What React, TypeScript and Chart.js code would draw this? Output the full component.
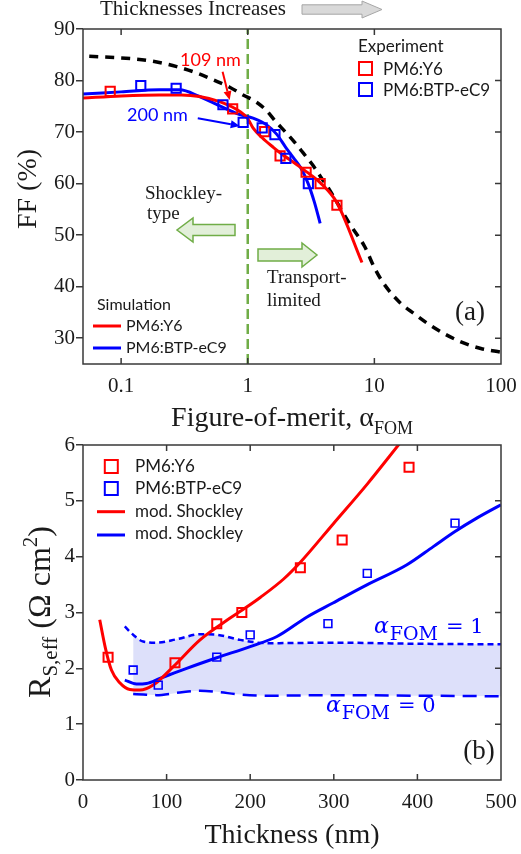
import React, { useEffect, useRef } from "react";
import { Chart, registerables } from "chart.js";

Chart.register(...registerables);

const SERIF = '"Liberation Serif", "Times New Roman", serif';
const SANS = 'Lato, "Noto Sans", sans-serif';
const MATH = '"DejaVu Serif", serif';
const INK = "#1a1a1a";
const FRAME = "#383838";
const RED = "#ff0000";
const BLUE = "#0000ff";
const GREEN = "#70ad47";

// ---------- Panel (a): fill factor versus figure-of-merit ----------
const fomTicks = [0.1, 1, 10, 100];
const ffTicks = [30, 40, 50, 60, 70, 80, 90];
const fomThreshold = 1;

const modelFom = [0.056, 0.127, 0.183, 0.275, 0.392, 0.537, 0.72, 0.918, 1.157, 1.39, 1.67, 1.97, 2.33, 2.75, 3.26, 3.77, 4.34, 6.45, 8.38, 10, 11.7, 16.1, 20.5, 26.2, 35.5, 48.2, 69.3, 100];
const modelFF = [84.7, 84.2, 83.7, 82.7, 81.5, 80.1, 78.7, 77.2, 75.9, 74.3, 72.0, 70.1, 68.1, 65.9, 63.6, 61.3, 59.1, 52.0, 47.8, 43.7, 40.8, 36.8, 34.8, 32.9, 30.9, 29.3, 28.0, 27.3];

const simY6Fom = [0.05, 0.1, 0.2, 0.3, 0.416, 0.6, 0.865, 1.0, 1.1, 1.3, 1.6, 1.8, 2.43, 3.1, 3.73, 5.06, 7.98];
const simY6FF = [76.6, 77.0, 77.2, 77.2, 76.9, 75.9, 74.0, 72.6, 70.8, 68.9, 67.0, 66.0, 63.7, 61.8, 60.2, 56.3, 44.7];

const simEC9Fom = [0.05, 0.1, 0.2, 0.29, 0.416, 0.6, 0.865, 1.1, 1.41, 1.69, 2.0, 2.3, 2.6, 3.0, 3.35, 3.73];
const simEC9FF = [77.4, 77.8, 78.2, 78.2, 76.9, 75.1, 73.4, 72.7, 71.4, 69.6, 67.0, 65.0, 63.2, 60.0, 56.5, 52.3];

const expY6Fom = [0.082, 0.76, 1.36, 1.8, 2.89, 3.73, 5.06];
const expY6FF = [77.9, 74.5, 70.1, 65.4, 62.2, 60.0, 55.8];

const expEC9Fom = [0.143, 0.272, 0.637, 0.92, 1.3, 1.64, 2.0, 3.01];
const expEC9FF = [79.0, 78.5, 75.3, 71.9, 70.8, 69.5, 64.9, 60.0];

// ---------- Panel (b): effective series resistance versus thickness ----------
const thicknessTicks = [0, 100, 200, 300, 400, 500];
const rsTicks = [0, 1, 2, 3, 4, 5, 6];

const expY6Thick = [30, 110, 160, 190, 260, 310, 390];
const expY6Rs = [2.2, 2.1, 2.8, 3.0, 3.8, 4.3, 5.6];

const expEC9Thick = [60, 90, 160, 200, 293, 340, 445];
const expEC9Rs = [1.97, 1.7, 2.2, 2.6, 2.8, 3.7, 4.6];

const shockleyY6Thick = [20, 27, 34, 44, 56, 68, 84, 108, 140, 176, 191, 212, 240, 260, 300, 340, 380];
const shockleyY6Rs = [2.87, 2.35, 1.97, 1.74, 1.62, 1.61, 1.7, 2.03, 2.51, 2.9, 3.05, 3.27, 3.6, 3.9, 4.6, 5.3, 6.05];

const shockleyEC9Thick = [50, 64, 76, 92, 124, 160, 200, 232, 268, 299, 339, 387, 419, 445, 471, 500];
const shockleyEC9Rs = [1.79, 1.72, 1.73, 1.82, 2.0, 2.19, 2.39, 2.57, 2.92, 3.17, 3.49, 3.85, 4.18, 4.45, 4.69, 4.93];

const fomOneThick = [50, 60, 72, 88, 112, 140, 160, 188, 220, 300, 400, 500];
const fomOneRs = [2.75, 2.6, 2.48, 2.46, 2.52, 2.61, 2.6, 2.51, 2.45, 2.46, 2.44, 2.43];

const fomZeroThick = [60, 72, 88, 112, 140, 160, 188, 220, 300, 400, 500];
const fomZeroRs = [1.54, 1.53, 1.52, 1.56, 1.6, 1.58, 1.53, 1.51, 1.52, 1.51, 1.5];

// ---------- helpers ----------
const pts = (xs: number[], ys: number[]) => xs.map((x, i) => ({ x, y: ys[i] }));

function curve(label: string, data: any[], color: string, width: number, dash: number[], order: number, extra: any = {}) {
  return {
    type: "line",
    label,
    data,
    borderColor: color,
    backgroundColor: color,
    borderWidth: width,
    borderDash: dash,
    borderCapStyle: "butt",
    pointRadius: 0,
    pointHoverRadius: 0,
    fill: false,
    cubicInterpolationMode: "monotone",
    order,
    ...extra,
  };
}

function squares(label: string, data: any[], color: string, radius: number, width: number, order: number) {
  return {
    type: "line",
    label,
    data,
    showLine: false,
    pointStyle: "rect",
    pointRadius: radius,
    pointHoverRadius: radius,
    pointBorderColor: color,
    pointBackgroundColor: "rgba(0,0,0,0)",
    pointBorderWidth: width,
    borderColor: color,
    backgroundColor: "rgba(0,0,0,0)",
    order,
  };
}

function yAxis(min: number, max: number, ticks: number[], width: number) {
  return {
    type: "linear",
    min,
    max,
    afterBuildTicks: (s: any) => {
      s.ticks = ticks.map((v) => ({ value: v }));
    },
    afterFit: (s: any) => {
      s.width = width;
    },
    grid: { drawOnChartArea: false, drawTicks: true, tickLength: 7, color: FRAME, lineWidth: 1.5 },
    border: { display: false },
    ticks: { padding: 1, color: INK, font: { family: SERIF, size: 21 }, callback: (v: any) => String(v) },
  };
}

function xAxis(type: string, min: number, max: number, ticks: number[], height: number) {
  return {
    type,
    min,
    max,
    afterBuildTicks: (s: any) => {
      s.ticks = ticks.map((v) => ({ value: v }));
    },
    afterFit: (s: any) => {
      s.height = height;
    },
    grid: { display: false },
    border: { display: false },
    ticks: {
      padding: 2,
      autoSkip: false,
      maxRotation: 0,
      color: INK,
      font: { family: SERIF, size: 21 },
      callback: (v: any) => String(v),
    },
  };
}

function drawFrame(chart: any) {
  const { ctx, chartArea: a, scales } = chart;
  const xs = scales.x;
  const ys = scales.y;
  ctx.save();
  ctx.strokeStyle = FRAME;
  ctx.lineWidth = 1.5;
  ctx.beginPath();
  for (const t of xs.ticks) {
    const p = xs.getPixelForValue(t.value);
    if (p <= a.left + 1 || p >= a.right - 1) continue;
    ctx.moveTo(p, a.bottom);
    ctx.lineTo(p, a.bottom - 6);
    ctx.moveTo(p, a.top);
    ctx.lineTo(p, a.top + 6);
  }
  for (const t of ys.ticks) {
    const p = ys.getPixelForValue(t.value);
    if (p <= a.top + 1 || p >= a.bottom - 1) continue;
    ctx.moveTo(a.right, p);
    ctx.lineTo(a.right - 6, p);
  }
  ctx.stroke();
  ctx.strokeRect(a.left, a.top, a.right - a.left, a.bottom - a.top);
  ctx.restore();
}

function text(ctx: any, s: string, x: number, y: number, font: string, color: string, align = "left", baseline = "alphabetic") {
  ctx.font = font;
  ctx.fillStyle = color;
  ctx.textAlign = align;
  ctx.textBaseline = baseline;
  ctx.fillText(s, x, y);
}

function blockArrow(ctx: any, tailX: number, tipX: number, cy: number, bodyHalf: number, headHalf: number, headLen: number, fill: string, stroke: string, lw: number) {
  const d = Math.sign(tipX - tailX);
  const neck = tipX - d * headLen;
  ctx.beginPath();
  ctx.moveTo(tailX, cy - bodyHalf);
  ctx.lineTo(neck, cy - bodyHalf);
  ctx.lineTo(neck, cy - headHalf);
  ctx.lineTo(tipX, cy);
  ctx.lineTo(neck, cy + headHalf);
  ctx.lineTo(neck, cy + bodyHalf);
  ctx.lineTo(tailX, cy + bodyHalf);
  ctx.closePath();
  ctx.fillStyle = fill;
  ctx.fill();
  ctx.strokeStyle = stroke;
  ctx.lineWidth = lw;
  ctx.stroke();
}

function pointer(ctx: any, x0: number, y0: number, x1: number, y1: number, color: string) {
  const ang = Math.atan2(y1 - y0, x1 - x0);
  const head = 9;
  const half = 4;
  const bx = x1 - head * Math.cos(ang);
  const by = y1 - head * Math.sin(ang);
  ctx.strokeStyle = color;
  ctx.lineWidth = 2;
  ctx.beginPath();
  ctx.moveTo(x0, y0);
  ctx.lineTo(bx, by);
  ctx.stroke();
  ctx.fillStyle = color;
  ctx.beginPath();
  ctx.moveTo(x1, y1);
  ctx.lineTo(bx + half * Math.sin(ang), by - half * Math.cos(ang));
  ctx.lineTo(bx - half * Math.sin(ang), by + half * Math.cos(ang));
  ctx.closePath();
  ctx.fill();
}

function legendSquare(ctx: any, cx: number, cy: number, side: number, color: string) {
  ctx.strokeStyle = color;
  ctx.lineWidth = 2;
  ctx.strokeRect(cx - side / 2, cy - side / 2, side, side);
}

function legendLine(ctx: any, x0: number, x1: number, y: number, color: string) {
  ctx.strokeStyle = color;
  ctx.lineWidth = 3;
  ctx.beginPath();
  ctx.moveTo(x0, y);
  ctx.lineTo(x1, y);
  ctx.stroke();
}

// Text runs with sub/superscripts: [text, size, baseline shift]
function runs(ctx: any, parts: [string, number, number][], family: string, color: string) {
  let w = 0;
  for (const [s, size] of parts) {
    ctx.font = `${size}px ${family}`;
    w += ctx.measureText(s).width;
  }
  return {
    width: w,
    draw: (x: number, y: number) => {
      ctx.fillStyle = color;
      ctx.textAlign = "left";
      ctx.textBaseline = "alphabetic";
      let cx = x;
      for (const [s, size, dy] of parts) {
        ctx.font = `${size}px ${family}`;
        ctx.fillText(s, cx, y + dy);
        cx += ctx.measureText(s).width;
      }
    },
  };
}

// ---------- panel (a) decorations ----------
const panelADecor = {
  id: "panelADecor",
  afterDraw(chart: any) {
    const { ctx, scales } = chart;
    const X = (v: number) => scales.x.getPixelForValue(v);
    const Y = (v: number) => scales.y.getPixelForValue(v);
    drawFrame(chart);
    ctx.save();

    text(ctx, "Thicknesses Increases", 100, 15, `21px ${SERIF}`, INK);
    blockArrow(ctx, 302, 382, 9.5, 4.7, 8.5, 20, "#d9d9d9", "#a6a6a6", 1);

    text(ctx, "109 nm", 180, 66, `18px ${SANS}`, RED);
    pointer(ctx, X(0.633), Y(81.7), X(0.72), Y(76.2), RED);
    text(ctx, "200 nm", 127, 120.5, `18px ${SANS}`, BLUE);
    pointer(ctx, X(0.403), Y(72.7), X(0.864), Y(71.2), BLUE);

    text(ctx, "Experiment", 358, 52, `17px ${SANS}`, INK);
    legendSquare(ctx, 365.5, 68.5, 13, RED);
    text(ctx, "PM6:Y6", 383, 75, `17px ${SANS}`, INK);
    legendSquare(ctx, 365.5, 89.5, 13, BLUE);
    text(ctx, "PM6:BTP-eC9", 383, 96, `17px ${SANS}`, INK);

    text(ctx, "Shockley-", 145, 199, `19px ${SERIF}`, INK);
    text(ctx, "type", 147, 219, `19px ${SERIF}`, INK);
    blockArrow(ctx, 235, 177, 230, 5.5, 12, 16, "#e2efd9", GREEN, 1.5);
    blockArrow(ctx, 258, 317, 255, 6, 12, 15, "#e2efd9", GREEN, 1.5);
    text(ctx, "Transport-", 267, 283, `19px ${SERIF}`, INK);
    text(ctx, "limited", 267, 306, `19px ${SERIF}`, INK);

    text(ctx, "Simulation", 97, 310, `16px ${SANS}`, INK);
    legendLine(ctx, 93, 121, 326, RED);
    text(ctx, "PM6:Y6", 126, 326, `16px ${SANS}`, INK, "left", "middle");
    legendLine(ctx, 93, 121, 348, BLUE);
    text(ctx, "PM6:BTP-eC9", 126, 348, `16px ${SANS}`, INK, "left", "middle");

    text(ctx, "(a)", 470, 313, `27px ${SERIF}`, INK, "center", "middle");

    // axis titles
    ctx.save();
    ctx.translate(36, 189);
    ctx.rotate(-Math.PI / 2);
    text(ctx, "FF (%)", 0, 0, `28px ${SERIF}`, INK, "center", "alphabetic");
    ctx.restore();

    const xt = runs(ctx, [["Figure-of-merit, α", 28, 0], ["FOM", 18, 8]], SERIF, INK);
    xt.draw(292 - xt.width / 2, 426);

    ctx.restore();
  },
};

// ---------- panel (b) decorations ----------
const panelBDecor = {
  id: "panelBDecor",
  afterDraw(chart: any) {
    const { ctx } = chart;
    drawFrame(chart);
    ctx.save();

    legendSquare(ctx, 111.3, 36.5, 13, RED);
    text(ctx, "PM6:Y6", 135, 37, `17px ${SANS}`, INK, "left", "middle");
    legendSquare(ctx, 111.3, 58.5, 13, BLUE);
    text(ctx, "PM6:BTP-eC9", 135, 59, `17px ${SANS}`, INK, "left", "middle");
    legendLine(ctx, 97, 125, 81.7, RED);
    text(ctx, "mod. Shockley", 135, 82, `17px ${SANS}`, INK, "left", "middle");
    legendLine(ctx, 97, 125, 105, BLUE);
    text(ctx, "mod. Shockley", 135, 104, `17px ${SANS}`, INK, "left", "middle");

    const fomLabel = (x: number, y: number, val: string) => {
      ctx.fillStyle = BLUE;
      ctx.textAlign = "left";
      ctx.textBaseline = "alphabetic";
      ctx.font = `italic 22px ${MATH}`;
      ctx.fillText("α", x, y);
      let cx = x + ctx.measureText("α").width + 1;
      ctx.font = `19px ${MATH}`;
      ctx.fillText("FOM", cx, y + 7);
      cx += ctx.measureText("FOM").width + 8;
      ctx.font = `21px ${MATH}`;
      ctx.fillText("= " + val, cx, y);
    };
    fomLabel(374, 203, "1");
    fomLabel(326, 282, "0");

    text(ctx, "(b)", 479, 322, `27px ${SERIF}`, INK, "center", "middle");

    ctx.save();
    ctx.translate(50, 182);
    ctx.rotate(-Math.PI / 2);
    const yt = runs(ctx, [["R", 32, 0], ["S,eff", 21, 7], [" (Ω cm", 32, 0], ["2", 21, -13], [")", 32, 0]], SERIF, INK);
    yt.draw(-yt.width / 2, 0);
    ctx.restore();

    text(ctx, "Thickness (nm)", 292, 413, `28px ${SERIF}`, INK, "center", "alphabetic");
    ctx.restore();
  },
};

function panelAConfig(): any {
  return {
    type: "line",
    data: {
      datasets: [
        squares("PM6:BTP-eC9 experiment", pts(expEC9Fom, expEC9FF), BLUE, 6.5, 2, 0),
        squares("PM6:Y6 experiment", pts(expY6Fom, expY6FF), RED, 6.5, 2, 1),
        curve("PM6:Y6 simulation", pts(simY6Fom, simY6FF), RED, 3, [], 2),
        curve("PM6:BTP-eC9 simulation", pts(simEC9Fom, simEC9FF), BLUE, 3, [], 3),
        curve("Model", pts(modelFom, modelFF), "#000000", 3.5, [9, 7], 4),
        curve("Threshold", [{ x: fomThreshold, y: 25 }, { x: fomThreshold, y: 90 }], GREEN, 2.5, [10, 5], 5, { cubicInterpolationMode: "default", tension: 0 }),
      ],
    },
    options: {
      responsive: false,
      animation: false,
      events: [],
      layout: { padding: { top: 29, right: 20, bottom: 0, left: 0 } },
      plugins: { legend: { display: false }, tooltip: { enabled: false } },
      scales: {
        x: xAxis("logarithmic", 0.05, 100, fomTicks, 76),
        y: yAxis(25, 90, ffTicks, 83),
      },
    },
    plugins: [panelADecor],
  };
}

function panelBConfig(): any {
  return {
    type: "line",
    data: {
      datasets: [
        squares("PM6:Y6", pts(expY6Thick, expY6Rs), RED, 6.4, 2, 0),
        squares("PM6:BTP-eC9", pts(expEC9Thick, expEC9Rs), BLUE, 5.5, 1.6, 1),
        curve("mod. Shockley PM6:Y6", pts(shockleyY6Thick, shockleyY6Rs), RED, 3, [], 2),
        curve("mod. Shockley PM6:BTP-eC9", pts(shockleyEC9Thick, shockleyEC9Rs), BLUE, 3, [], 3),
        curve("αFOM = 1", pts(fomOneThick, fomOneRs), BLUE, 2.5, [6, 4], 4),
        curve("αFOM = 0", pts(fomZeroThick, fomZeroRs), BLUE, 2.5, [14, 8], 5),
        curve("band", pts(fomOneThick.slice(1), fomOneRs.slice(1)), "rgba(0,0,0,0)", 0, [], 6, {
          fill: { target: 5 },
          backgroundColor: "#dde0fa",
        }),
      ],
    },
    options: {
      responsive: false,
      animation: false,
      events: [],
      layout: { padding: { top: 15, right: 20, bottom: 0, left: 0 } },
      plugins: { legend: { display: false }, tooltip: { enabled: false }, filler: { propagate: false } },
      scales: {
        x: xAxis("linear", 0, 500, thicknessTicks, 74),
        y: yAxis(0, 6, rsTicks, 83),
      },
    },
    plugins: [panelBDecor],
  };
}

function ChartCanvas({ top, width, height, build }: { top: number; width: number; height: number; build: () => any }) {
  const ref = useRef<HTMLCanvasElement>(null);
  useEffect(() => {
    const chart = new Chart(ref.current as HTMLCanvasElement, build());
    return () => chart.destroy();
  }, [build]);
  return (
    <canvas
      ref={ref}
      width={width}
      height={height}
      style={{ position: "absolute", left: 0, top, display: "block", width, height }}
    />
  );
}

export default function App() {
  return (
    <div style={{ position: "absolute", left: 0, top: 0, width: 521, height: 854, background: "#ffffff" }}>
      <ChartCanvas top={430} width={521} height={424} build={panelBConfig} />
      <ChartCanvas top={0} width={521} height={440} build={panelAConfig} />
    </div>
  );
}
